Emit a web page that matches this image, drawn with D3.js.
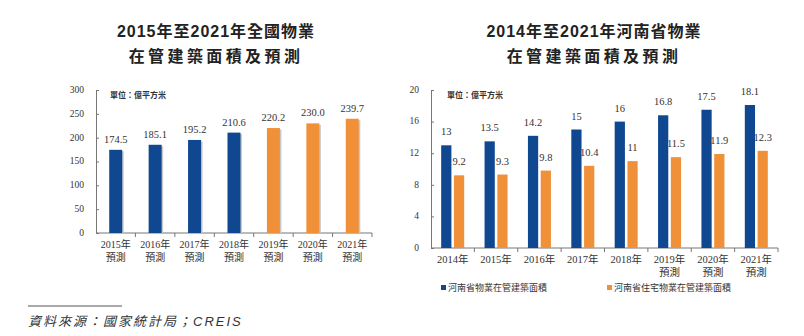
<!DOCTYPE html>
<html>
<head>
<meta charset="utf-8">
<script src="https://cdn.jsdelivr.net/npm/d3@7"></script>
<style>
  body { margin: 0; background: #fff; }
  svg { display: block; }
  .title { font-family: "Liberation Sans", "Noto Sans CJK TC", sans-serif; font-weight: bold; font-size: 16px; fill: #222; }
  .num { font-family: "Liberation Serif", "Noto Sans CJK TC", serif; fill: #333; }
  .axis path, .axis line { stroke: #777; }
</style>
</head>
<body>
<svg id="chart" width="804" height="336"></svg>
<script>
// national data
const natYears = ['2015年', '2016年', '2017年', '2018年', '2019年', '2020年', '2021年'];
const natForecast = [true, true, true, true, true, true, true];
const natValues = [174.5, 185.1, 195.2, 210.6, 220.2, 230.0, 239.7];
const natIsEstimate = [false, false, false, false, true, true, true];
const natTicks = [0, 50, 100, 150, 200, 250, 300];

// Henan data
const henYears = ['2014年', '2015年', '2016年', '2017年', '2018年', '2019年', '2020年', '2021年'];
const henForecast = [false, false, false, false, false, true, true, true];
const henTotal = [13, 13.5, 14.2, 15, 16, 16.8, 17.5, 18.1];
const henResidential = [9.2, 9.3, 9.8, 10.4, 11, 11.5, 11.9, 12.3];
const henSeries = ['河南省物業在管建築面積', '河南省住宅物業在管建築面積'];
const henTicks = [0, 4, 8, 12, 16, 20];

const BLUE = '#0f4791';
const ORANGE = '#f0913a';

const svg = d3.select('#chart');

function title(cx, line1, line2) {
    svg.append('text').attr('class', 'title')
        .attr('x', cx).attr('y', 37).attr('text-anchor', 'middle')
        .style('letter-spacing', '1px').text(line1);
    svg.append('text').attr('class', 'title')
        .attr('x', cx).attr('y', 62).attr('text-anchor', 'middle')
        .style('letter-spacing', '3.4px').text(line2);
}

function drawAxes(x, y, ticks, unitX) {
    const yAxis = svg.append('g').attr('class', 'axis')
        .attr('transform', `translate(${x.range()[0]},0)`)
        .call(d3.axisLeft(y).tickValues(ticks).tickSize(-3).tickPadding(12));
    yAxis.selectAll('text').attr('class', 'num').style('font-size', '9.5px').attr('dy', '0.25em');

    // x baseline with ticks at band edges
    const base = y(0);
    const g = svg.append('g').attr('class', 'axis');
    g.append('line').attr('x1', x.range()[0]).attr('x2', x.range()[1])
        .attr('y1', base).attr('y2', base);
    const edges = x.domain().map(d => x(d) + x.step());
    g.selectAll('.tk').data(edges).enter().append('line')
        .attr('x1', d => d).attr('x2', d => d)
        .attr('y1', base).attr('y2', base + 4);

    svg.append('text').attr('x', unitX).attr('y', 98)
        .style('font-family', '"Noto Sans CJK TC", sans-serif')
        .style('font-size', '8px').style('font-weight', 'bold').style('fill', '#333')
        .text('單位：億平方米');
}

function xLabels(x, base, years, forecast, size) {
    years.forEach((yr, i) => {
        const cx = x(yr) + x.bandwidth() / 2;
        svg.append('text').attr('class', 'num')
            .attr('x', cx).attr('y', base + 15).attr('text-anchor', 'middle')
            .style('font-size', size).text(yr);
        if (forecast[i]) {
            svg.append('text').attr('class', 'num')
                .attr('x', cx).attr('y', base + 28).attr('text-anchor', 'middle')
                .style('font-size', size).text('預測');
        }
    });
}

// ---------- left chart ----------
title(216, '2015年至2021年全國物業', '在管建築面積及預測');

const xL = d3.scaleBand().domain(natYears).range([96, 372]).padding(0);
const yL = d3.scaleLinear().domain([0, 300]).range([233, 90]);
drawAxes(xL, yL, natTicks, 110);

const barW = 13;
const natBars = svg.append('g');
natValues.forEach((v, i) => {
    const cx = xL(natYears[i]) + xL.bandwidth() / 2;
    natBars.append('rect')
        .attr('x', cx - barW / 2 + 1.5).attr('y', yL(v) + 1.5)
        .attr('width', barW).attr('height', yL(0) - yL(v) - 1.5)
        .attr('fill', '#c8c8c8');
    natBars.append('rect')
        .attr('x', cx - barW / 2).attr('y', yL(v))
        .attr('width', barW).attr('height', yL(0) - yL(v))
        .attr('fill', natIsEstimate[i] ? ORANGE : BLUE);
    natBars.append('text').attr('class', 'num')
        .attr('x', cx).attr('y', yL(v) - 7).attr('text-anchor', 'middle')
        .style('font-size', '10.5px').text(v.toFixed(1));
});
xLabels(xL, yL(0), natYears, natForecast, '10px');

// ---------- right chart ----------
title(594, '2014年至2021年河南省物業', '在管建築面積及預測');

const xR = d3.scaleBand().domain(henYears).range([431, 778]).padding(0);
const yR = d3.scaleLinear().domain([0, 20]).range([248, 90]);
drawAxes(xR, yR, henTicks, 447);

const x1 = d3.scaleBand().domain(henSeries).range([-11.5, 11.5]).paddingInner(0.2);
const henData = [henTotal, henResidential];
const henColors = [BLUE, ORANGE];
henData.forEach((vals, s) => {
    vals.forEach((v, i) => {
        const x0 = xR(henYears[i]) + xR.bandwidth() / 2 + x1(henSeries[s]);
        svg.append('rect')
            .attr('x', x0).attr('y', yR(v))
            .attr('width', x1.bandwidth()).attr('height', yR(0) - yR(v))
            .attr('fill', henColors[s]);
        svg.append('text').attr('class', 'num')
            .attr('x', x0 + x1.bandwidth() / 2).attr('y', yR(v) - 10).attr('text-anchor', 'middle')
            .style('font-size', '10.5px').text(v);
    });
});
xLabels(xR, yR(0), henYears, henForecast, '10.5px');

// legend
const legendX = [441, 607];
henSeries.forEach((name, s) => {
    svg.append('rect').attr('x', legendX[s]).attr('y', 285)
        .attr('width', 5).attr('height', 5).attr('fill', henColors[s]);
    svg.append('text').attr('class', 'num')
        .attr('x', legendX[s] + 7).attr('y', 291)
        .style('font-size', '9px').text(name);
});

// source
svg.append('line').attr('x1', 28).attr('x2', 122).attr('y1', 306).attr('y2', 306)
    .attr('stroke', '#555').attr('stroke-width', 1);
svg.append('text').attr('x', 28).attr('y', 326)
    .style('font-family', '"Liberation Sans", "Noto Sans CJK TC", sans-serif')
    .style('font-style', 'italic').style('font-size', '13px').style('fill', '#333')
    .style('letter-spacing', '2px')
    .text('資料來源：國家統計局；CREIS');
</script>
</body>
</html>
